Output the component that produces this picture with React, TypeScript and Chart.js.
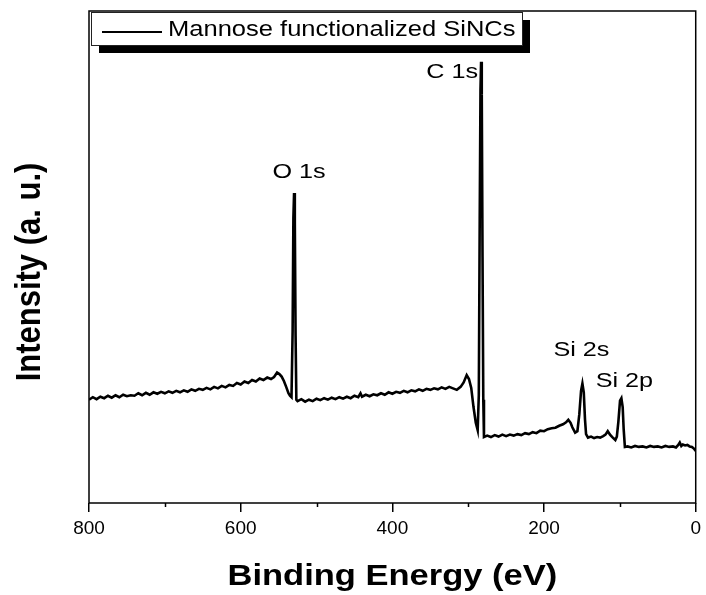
import React, { useEffect, useRef } from 'react';
import { Chart, registerables } from 'chart.js';

Chart.register(...registerables);

// Binding energy (eV) of each sampled point
const energies = [
  800, 795, 790, 785, 780, 775, 770, 765, 760, 755, 750, 745, 740, 735, 730, 725, 720, 715, 710, 705,
  700, 695, 690, 685, 680, 675, 670, 665, 660, 655, 650, 645, 640, 635, 630, 625, 620, 615, 610, 605,
  600, 595, 590, 585, 580, 575, 570, 565, 560, 556, 552, 549, 546, 543, 540, 537, 535, 533, 531.5, 530.5,
  529.6, 528.6, 527.6, 526.6, 525, 520, 515, 510, 505, 500, 495, 490, 485, 480, 475, 470, 465, 460, 455, 450,
  445, 442, 440, 435, 430, 425, 420, 415, 410, 405, 400, 395, 390, 385, 380, 375, 370, 365, 360, 355,
  350, 345, 340, 335, 330, 325, 320, 315, 310, 306, 302, 299, 296, 293, 290, 287.5, 286, 284.8, 283.8, 283,
  282.1, 281.1, 280.1, 279.2, 275, 270, 265, 260, 255, 250, 245, 240, 235, 230, 225, 220, 215, 210, 205, 200,
  195, 190, 185, 180, 175, 171, 168, 165, 162.7, 159, 156, 153.5, 151.2, 149.4, 147.6, 146, 144.6, 142, 138, 134,
  130, 126, 122, 119, 116, 113, 110, 106, 104, 102, 99.8, 98, 96.3, 95, 93.4, 90, 85, 80, 75, 70,
  65, 60, 55, 50, 45, 40, 35, 30, 26, 23, 21, 19, 17, 14, 11, 8, 5, 2, 0,
];

// Intensity (arbitrary units) at each energy
const intensities = [
  21.0, 21.5, 21.1, 21.6, 21.3, 21.8, 21.4, 21.9, 21.5, 22.0, 21.7, 21.9, 21.8, 22.3, 21.9, 22.4, 22.0, 22.5, 22.2, 22.6,
  22.3, 22.7, 22.4, 22.8, 22.5, 22.9, 22.6, 23.1, 22.8, 23.2, 23.0, 23.4, 23.1, 23.6, 23.3, 23.8, 23.5, 24.0, 23.8, 24.4,
  24.1, 24.7, 24.4, 25.0, 24.7, 25.3, 25.0, 25.5, 25.2, 25.6, 26.5, 26.2, 25.7, 24.8, 23.6, 22.3, 21.8, 21.5, 35, 58,
  63.0, 57, 34, 21.0, 20.7, 21.1, 20.6, 21.0, 20.7, 21.2, 20.9, 21.3, 21.0, 21.4, 21.1, 21.5, 21.2, 21.6, 21.3, 21.8,
  21.5, 22.3, 21.6, 22.0, 21.7, 22.1, 21.9, 22.3, 22.0, 22.5, 22.2, 22.6, 22.4, 22.8, 22.5, 22.9, 22.7, 23.1, 22.8, 23.2,
  23.0, 23.3, 23.1, 23.5, 23.2, 23.6, 23.3, 23.0, 23.6, 24.5, 26.0, 25.2, 23.4, 19.5, 16.3, 14.8, 22, 58, 84, 89.7,
  83, 50, 21, 13.4, 13.7, 13.4, 13.8, 13.5, 13.9, 13.6, 13.9, 13.7, 14.0, 13.8, 14.2, 14.0, 14.4, 14.2, 14.7, 14.6,
  15.0, 15.2, 15.3, 15.7, 16.0, 16.4, 16.9, 16.3, 15.4, 14.3, 14.6, 18, 22.8, 24.3, 22.5, 17, 14, 13.3, 13.5, 13.2,
  13.4, 13.3, 13.6, 13.9, 14.6, 13.9, 13.4, 12.8, 13.5, 16.5, 20.8, 21.3, 19.5, 15, 11.4, 11.5, 11.3, 11.6, 11.4, 11.5,
  11.3, 11.6, 11.4, 11.5, 11.3, 11.6, 11.4, 11.5, 11.3, 11.8, 12.3, 11.6, 11.9, 11.7, 11.8, 11.5, 11.4, 11.0, 10.6,
];

const seriesLabel = 'Mannose functionalized SiNCs';
const xTitle = 'Binding Energy (eV)';
const yTitle = 'Intensity (a. u.)';
const minorTicks = [700, 500, 300, 100];
const peakNames = ['O 1s', 'C 1s', 'Si 2s', 'Si 2p'];
const peakEnergies = [529.6, 283, 149.4, 98];
const peakHeights = [63.0, 89.7, 24.3, 21.3];

const FONT = "'Liberation Sans', Arial, Helvetica, sans-serif";

function stretchedText(
  ctx: CanvasRenderingContext2D,
  text: string,
  x: number,
  y: number,
  align: CanvasTextAlign,
  sx: number
) {
  ctx.save();
  ctx.translate(x, y);
  ctx.scale(sx, 1);
  ctx.textAlign = align;
  ctx.textBaseline = 'middle';
  ctx.fillText(text, 0, 0);
  ctx.restore();
}

// label offsets (pixels) relative to each peak's apex: [dx, dy, align]
const labelPlacement: [number, number, CanvasTextAlign][] = [
  [5, -21, 'center'],
  [-3, 11, 'right'],
  [-1, -33, 'center'],
  [3, -17, 'center'],
];

const decorPlugin = {
  id: 'decor',
  afterDraw(chart: any) {
    const { ctx, chartArea: a, scales } = chart;
    const xs = scales.x;
    const ys = scales.y;
    ctx.save();
    // frame
    ctx.strokeStyle = '#000';
    ctx.lineWidth = 1.5;
    ctx.strokeRect(a.left, a.top, a.right - a.left, a.bottom - a.top);
    // minor ticks
    ctx.beginPath();
    minorTicks.forEach((v) => {
      const px = Math.round(xs.getPixelForValue(v)) + 0.5;
      ctx.moveTo(px, a.bottom);
      ctx.lineTo(px, a.bottom + 4);
    });
    ctx.stroke();

    // peak labels
    ctx.fillStyle = '#000';
    ctx.font = `21px ${FONT}`;
    peakNames.forEach((name, i) => {
      const px = xs.getPixelForValue(peakEnergies[i]);
      const py = ys.getPixelForValue(peakHeights[i]);
      const [dx, dy, al] = labelPlacement[i];
      stretchedText(ctx, name, px + dx, py + dy, al, 1.2);
    });

    // legend with drop shadow
    const lx = a.left + 2;
    const ly = a.top + 1;
    const lw = 431;
    const lh = 33;
    ctx.fillStyle = '#000';
    ctx.fillRect(lx + 8, ly + 8, lw, lh);
    ctx.fillStyle = '#fff';
    ctx.fillRect(lx, ly, lw, lh);
    ctx.strokeStyle = '#222';
    ctx.lineWidth = 1;
    ctx.strokeRect(lx + 0.5, ly + 0.5, lw, lh);
    ctx.strokeStyle = '#000';
    ctx.lineWidth = 2;
    ctx.beginPath();
    ctx.moveTo(lx + 11, ly + 20);
    ctx.lineTo(lx + 71, ly + 20);
    ctx.stroke();
    ctx.fillStyle = '#000';
    ctx.font = `22px ${FONT}`;
    stretchedText(ctx, seriesLabel, lx + 77, ly + 18, 'left', 1.16);

    // axis titles
    ctx.font = `bold 30px ${FONT}`;
    stretchedText(ctx, xTitle, (a.left + a.right) / 2, 577, 'center', 1.15);

    ctx.save();
    ctx.translate(30, (a.top + a.bottom) / 2 + 15);
    ctx.rotate(-Math.PI / 2);
    ctx.scale(1, 1.15);
    ctx.font = `bold 31px ${FONT}`;
    ctx.textAlign = 'center';
    ctx.textBaseline = 'middle';
    ctx.fillText(yTitle, 0, 0);
    ctx.restore();

    ctx.restore();
  },
};

export default function App() {
  const ref = useRef<HTMLCanvasElement | null>(null);

  useEffect(() => {
    if (!ref.current) return;
    const points = energies.map((e, i) => ({ x: e, y: intensities[i] }));
    const chart = new Chart(ref.current, {
      type: 'line',
      data: {
        datasets: [
          {
            label: seriesLabel,
            data: points,
            borderColor: '#000',
            borderWidth: 2.6,
            pointRadius: 0,
            tension: 0,
            fill: false,
          },
        ],
      },
      options: {
        animation: false,
        responsive: false,
        devicePixelRatio: 1,
        layout: { padding: { left: 89, top: 11, right: 8, bottom: 50 } },
        plugins: { legend: { display: false }, tooltip: { enabled: false } },
        scales: {
          x: {
            type: 'linear',
            reverse: true,
            min: 0,
            max: 800,
            afterFit: (scale: any) => {
              scale.height = 42;
            },
            ticks: {
              stepSize: 200,
              color: '#000',
              padding: 5,
              maxRotation: 0,
              font: { size: 19, family: FONT },
            },
            grid: {
              display: true,
              drawOnChartArea: false,
              drawTicks: true,
              tickLength: 9,
              color: '#000',
              lineWidth: 1.5,
            },
            border: { display: false },
          },
          y: {
            type: 'linear',
            display: false,
            min: 0,
            max: 100,
          },
        },
      },
      plugins: [decorPlugin],
    });
    return () => chart.destroy();
  }, []);

  return (
    <div style={{ position: 'absolute', left: 0, top: 0, width: 706, height: 595, background: '#fff' }}>
      <canvas ref={ref} width={706} height={595} style={{ display: 'block' }} />
    </div>
  );
}
